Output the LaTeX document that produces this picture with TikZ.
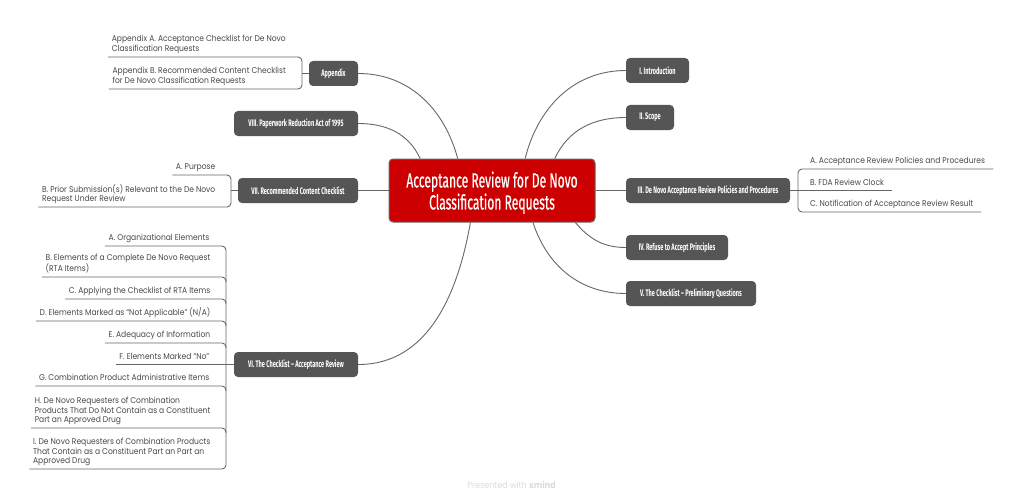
\documentclass[tikz,border=0pt]{standalone}
\usepackage{xcolor}
\usepackage{fontspec}
\setmainfont[FakeStretch=0.9]{Poppins}
\newfontfamily\narrowfont[FakeStretch=0.59]{Fira Sans}
\newfontfamily\hubfont[FakeStretch=0.59,FakeBold=0.5]{Fira Sans}
\definecolor{topicgrey}{HTML}{555555}
\definecolor{leafgrey}{HTML}{484848}
\definecolor{linegrey}{HTML}{666666}
\definecolor{hubred}{HTML}{CC0000}
\tikzset{
    hubbox/.style={draw=linegrey,line width=1pt,fill=hubred,rounded corners=4pt,text=white,minimum width=206pt,minimum height=63pt,align=center,text depth=-2pt,font=\hubfont\fontsize{20.5}{22}\selectfont},
    topic/.style={fill=topicgrey,rounded corners=4pt,text=white,minimum height=25pt,inner xsep=0pt,inner ysep=0pt,font=\narrowfont\bfseries\fontsize{9.5}{11}\selectfont},
    leaf/.style={text=leafgrey,align=left,inner ysep=3pt,text depth=2pt,font=\fontsize{8.4}{9.8}\selectfont},
    leftleaf/.style={leaf,anchor=south east,inner xsep=3.5pt},
    rightleaf/.style={leaf,anchor=south west,inner xsep=8pt},
    branch/.style={draw=linegrey,line width=0.9pt},
    bracket/.style={branch,rounded corners=4pt},
}
\begin{document}
\begin{tikzpicture}[x=1pt,y=-1pt]
    \useasboundingbox (0,0) rectangle (1024,500);
    \node[hubbox] (hub) at (492,190.5) {Acceptance Review for De Novo\\Classification Requests};

    \node[topic,minimum width=63pt] (intro) at (657.5,70.5) {I. Introduction};
    \node[topic,minimum width=48pt] (scope) at (650,117.5) {II. Scope};
    \node[topic,minimum width=164pt] (policies) at (708,190.5) {III. De Novo Acceptance Review Policies and Procedures};
    \node[topic,minimum width=102pt] (refuse) at (677,247.5) {IV. Refuse to Accept Principles};
    \node[topic,minimum width=130pt] (prelim) at (691,293.5) {V. The Checklist – Preliminary Questions};
    \node[topic,minimum width=124pt] (check) at (296,364.5) {VI. The Checklist – Acceptance Review};
    \node[topic,minimum width=120pt] (content) at (298,190.5) {VII. Recommended Content Checklist};
    \node[topic,minimum width=124pt] (paper) at (296,123.5) {VIII. Paperwork Reduction Act of 1995};
    \node[topic,minimum width=49pt] (appendix) at (333.5,73.5) {Appendix};

    \draw[branch] (hub.44) to[out=76,in=180] (intro.west);
    \draw[branch] (hub.27) to[out=65,in=180] (scope.west);
    \draw[branch] (hub.east |- policies) -- (policies.west);
    \draw[branch] (hub.339) to[out=-50,in=180] (refuse.west);
    \draw[branch] (hub.322) to[out=-72,in=180] (prelim.west);
    \draw[branch] (hub.236) to[out=-100,in=0] (check.east);
    \draw[branch] (hub.west |- content) -- (content.east);
    \draw[branch] (hub.156) to[out=115,in=0] (paper.east);
    \draw[branch] (hub.137) to[out=105,in=0] (appendix.east);

    \node[leftleaf] (appA) at (289.5,57) {Appendix A. Acceptance Checklist for De Novo\\Classification Requests};
    \node[leftleaf] (appB) at (289.5,89) {Appendix B. Recommended Content Checklist\\for De Novo Classification Requests};
    \coordinate (apptrunk) at (302,73.5);
    \draw[bracket] (appA.south west) -| (apptrunk) |- (appB.south west);
    \draw[branch] (apptrunk) -- (appendix.west);

    \node[leftleaf] (purpose) at (219,175) {A. Purpose};
    \node[leftleaf] (prior) at (219,207) {B. Prior Submission(s) Relevant to the De Novo\\Request Under Review};
    \coordinate (contenttrunk) at (231,190.5);
    \draw[bracket] (purpose.south west) -| (contenttrunk) |- (prior.south west);
    \draw[branch] (contenttrunk) -- (content.west);

    \node[leftleaf] (orga) at (213,246) {A. Organizational Elements};
    \node[leftleaf] (orgb) at (214,277) {B. Elements of a Complete De Novo Request\\(RTA Items)};
    \node[leftleaf] (orgc) at (214,299) {C. Applying the Checklist of RTA Items};
    \node[leftleaf] (orgd) at (214,321) {D. Elements Marked as “Not Applicable” (N/A)};
    \node[leftleaf] (orge) at (214,343) {E. Adequacy of Information};
    \node[leftleaf] (orgf) at (213,364.5) {F. Elements Marked “No”};
    \node[leftleaf] (orgg) at (213,386) {G. Combination Product Administrative Items};
    \node[leftleaf] (orgh) at (214,428) {H. De Novo Requesters of Combination\\Products That Do Not Contain as a Constituent\\Part an Approved Drug};
    \node[leftleaf] (orgi) at (214,469) {I. De Novo Requesters of Combination Products\\That Contain as a Constituent Part an Part an\\Approved Drug};
    \coordinate (checktrunk) at (226,364.5);
    \draw[bracket] (orga.south west) -| (checktrunk) |- (orgi.south west);
    \foreach \n in {orgb,orgc,orgd,orge,orgg,orgh}
        \draw[bracket] (\n.south west) -| ([yshift=-5pt]\n.south -| checktrunk);
    \draw[branch] (orgf.south west) -- (check.west);

    \node[rightleaf] (polA) at (802,169) {A. Acceptance Review Policies and Procedures};
    \node[rightleaf] (polB) at (802,190.5) {B. FDA Review Clock};
    \node[rightleaf] (polC) at (802,212) {C. Notification of Acceptance Review Result};
    \coordinate (poltrunk) at (798,190.5);
    \draw[bracket] (polA.south east) -| (poltrunk) |- (polC.south east);
    \draw[branch] (policies.east) -- (polB.south east);

    \node[text=black!14,font=\fontsize{9}{10}\selectfont] (credit) at (511.5,485) {Presented with \textbf{xmind}};
\end{tikzpicture}
\end{document}
